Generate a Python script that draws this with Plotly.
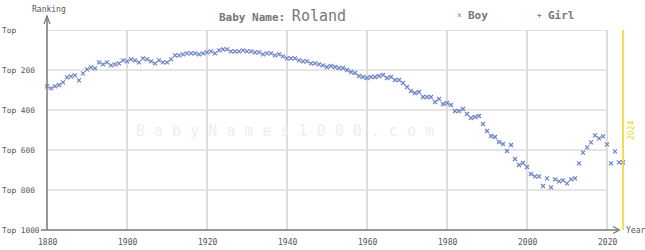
import plotly.graph_objects as go

years = list(range(1880, 2025))
boy_rank = [
    282, 292, 282, 275, 262, 237, 232, 227, 252, 217,  # 1880-1889
    197, 187, 192, 162, 172, 162, 177, 172, 167, 152,  # 1890-1899
    157, 147, 152, 162, 142, 147, 157, 167, 152, 162,  # 1900-1909
    162, 147, 127, 127, 122, 117, 117, 117, 122, 117,  # 1910-1919
    112, 107, 117, 102, 97, 97, 107, 107, 107, 102,    # 1920-1929
    107, 107, 112, 112, 122, 117, 117, 127, 122, 132,  # 1930-1939
    142, 142, 142, 152, 157, 157, 167, 167, 172, 177,  # 1940-1949
    185, 180, 185, 190, 190, 200, 210, 215, 230, 235,  # 1950-1959
    240, 235, 235, 230, 225, 240, 235, 250, 250, 265,  # 1960-1969
    285, 305, 315, 310, 335, 335, 335, 360, 345, 370,  # 1970-1979
    365, 375, 405, 405, 395, 420, 440, 435, 430, 470,  # 1980-1989
    505, 530, 535, 560, 570, 605, 575, 645, 675, 665,  # 1990-1999
    685, 720, 732, 732, 780, 742, 787, 747, 757, 752,  # 2000-2009
    767, 747, 742, 667, 613, 587, 562, 527, 542, 532,  # 2010-2019
    572, 667, 607, 662, 662,                           # 2020-2024
]
x_ticks = [1880, 1900, 1920, 1940, 1960, 1980, 2000, 2020]
y_ticks = [0, 200, 400, 600, 800, 1000]
y_labels = ["Top", "Top 200", "Top 400", "Top 600", "Top 800", "Top 1000"]
name = "Roland"
latest_year = 2024

# geometry (pixels)
W, H = 645, 250
L, R, T, B = 47, 635, 30, 230
X0, X1 = 1880, 1880 + (R - L) / 4

def px(p):
    return (p - L) / (R - L)

def py(p):
    return (B - p) / (B - T)

MONO = "DejaVu Sans Mono"
AX = "#777777"
GRID = "#dddddd"
BOY = "#7085c8"

fig = go.Figure()
fig.add_trace(go.Scatter(
    x=years, y=boy_rank, mode="markers",
    marker=dict(symbol="x-thin", size=4, color=BOY, line=dict(width=1.3, color=BOY)),
    cliponaxis=False, showlegend=False, hoverinfo="x+y",
))

shapes = []
# horizontal gridlines
for v in y_ticks[:-1]:
    shapes.append(dict(type="line", xref="x", yref="y", x0=1880, x1=2020, y0=v, y1=v,
                       line=dict(color=GRID, width=1.5), layer="below"))
# latest-year line
shapes.append(dict(type="line", xref="x", yref="y", x0=latest_year, x1=latest_year, y0=0, y1=1000,
                   line=dict(color="#f2d21a", width=1.5)))
# x axis line + arrow
shapes.append(dict(type="line", xref="paper", yref="paper", x0=px(L), x1=px(619), y0=0, y1=0,
                   line=dict(color=AX, width=1.5)))
shapes.append(dict(type="path", xref="paper", yref="paper",
                   path=f"M {px(613)} {py(226.5)} L {px(619.5)} {py(230)} L {px(613)} {py(233.5)}",
                   line=dict(color=AX, width=1.2)))
# y axis line + arrow
shapes.append(dict(type="line", xref="paper", yref="paper", x0=0, x1=0, y0=0, y1=py(16),
                   line=dict(color=AX, width=1.5)))
shapes.append(dict(type="path", xref="paper", yref="paper",
                   path=f"M {px(44)} {py(24)} L {px(47)} {py(16)} L {px(50)} {py(24)}",
                   line=dict(color=AX, width=1.2)))
# small tick at Top 1000
shapes.append(dict(type="line", xref="paper", yref="paper", x0=px(41), x1=px(47), y0=0, y1=0,
                   line=dict(color=AX, width=1.5)))

ann = []
for v, lab in zip(y_ticks, y_labels):
    ann.append(dict(x=px(0), y=v, xref="paper", yref="y", text=lab,
                    showarrow=False, xanchor="left", yanchor="middle",
                    font=dict(family=MONO, size=7.8, color="#555555")))
for t in x_ticks:
    ann.append(dict(x=t, y=py(242), xref="x", yref="paper", text=str(t),
                    showarrow=False, xanchor="center", yanchor="middle",
                    font=dict(family=MONO, size=8, color="#555555")))
ann.append(dict(x=px(49), y=py(9), xref="paper", yref="paper", text="Ranking", showarrow=False,
                xanchor="center", yanchor="middle", font=dict(family=MONO, size=8, color="#555555")))
ann.append(dict(x=px(624), y=0, xref="paper", yref="paper", text="Year", showarrow=False,
                xanchor="left", yanchor="middle", font=dict(family=MONO, size=8, color="#555555")))
ann.append(dict(x=px(217), y=py(16), xref="paper", yref="paper",
                text="<b>Baby Name:</b> <span style='font-size:15px'>" + name + "</span>",
                showarrow=False, xanchor="left", yanchor="middle",
                font=dict(family=MONO, size=11, color="#777777")))
ann.append(dict(x=px(455), y=py(15), xref="paper", yref="paper", text="×", showarrow=False,
                xanchor="left", yanchor="middle", font=dict(family=MONO, size=8, color=BOY)))
ann.append(dict(x=px(466), y=py(16), xref="paper", yref="paper", text="<b>Boy</b>", showarrow=False,
                xanchor="left", yanchor="middle", font=dict(family=MONO, size=11, color="#777777")))
ann.append(dict(x=px(535), y=py(15), xref="paper", yref="paper", text="+", showarrow=False,
                xanchor="left", yanchor="middle", font=dict(family=MONO, size=8, color="#c0506e")))
ann.append(dict(x=px(546), y=py(16), xref="paper", yref="paper", text="<b>Girl</b>", showarrow=False,
                xanchor="left", yanchor="middle", font=dict(family=MONO, size=11, color="#777777")))
ann.append(dict(x=px(285), y=py(131), xref="paper", yref="paper",
                text="B a b y N a m e s 1 0 0 0 . c o m", showarrow=False,
                xanchor="center", yanchor="middle", font=dict(family=MONO, size=15, color="#eeeeee")))
ann.append(dict(x=px(631), y=py(131), xref="paper", yref="paper", text=str(latest_year),
                showarrow=False, textangle=-90, xanchor="center", yanchor="middle",
                font=dict(family=MONO, size=8, color="#f2d21a")))

fig.update_layout(
    width=W, height=H, autosize=False,
    margin=dict(l=L, r=W - R, t=T, b=H - B, pad=0, autoexpand=False),
    paper_bgcolor="white", plot_bgcolor="white",
    xaxis=dict(range=[X0, X1], tickvals=x_ticks, showticklabels=False,
               showgrid=True, gridcolor=GRID, gridwidth=1.5, zeroline=False, showline=False,
               ticks="", fixedrange=True, automargin=False),
    yaxis=dict(range=[1000, 0], showgrid=False, zeroline=False, showline=False,
               showticklabels=False, ticks="", fixedrange=True, automargin=False),
    shapes=shapes, annotations=ann, showlegend=False,
)

fig.write_html("out.html")
